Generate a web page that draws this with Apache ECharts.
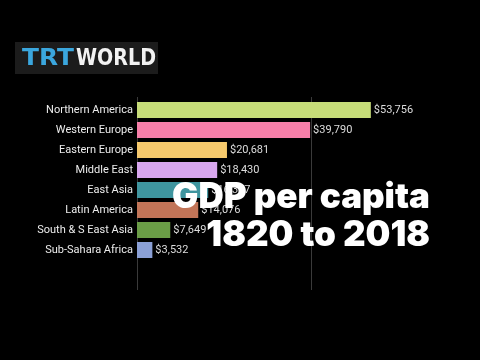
<!DOCTYPE html>
<html>
<head>
<meta charset="utf-8">
<script src="https://cdn.jsdelivr.net/npm/echarts@6/dist/echarts.min.js"></script>
<style>html,body{margin:0;padding:0;background:#000;}#c{width:480px;height:360px;}</style>
</head>
<body>
<div id="c"></div>
<script>
var regions = ['Northern America','Western Europe','Eastern Europe','Middle East','East Asia','Latin America','South & S East Asia','Sub-Sahara Africa'];
var gdp = [53756, 39790, 20681, 18430, 16377, 14076, 7649, 3532];
var colors = ['#c6dc78','#f77fa9','#f6c96c','#d8a6ee','#3f959f','#c27558','#6a9d46','#8ba0d6'];
var titleLines = ['GDP per capita', '1820 to 2018'];
var logoParts = ['TRT', 'WORLD'];

var titleStyle = {color: '#fff', fontSize: 35, fontWeight: 900, fontFamily: 'Inter', lineHeight: 35};
var chart = echarts.init(document.getElementById('c'), null, {renderer: 'canvas'});
chart.setOption({
  backgroundColor: '#000',
  animation: false,
  title: [
    {text: titleLines[0], right: 50, top: 180, padding: 0, textStyle: titleStyle},
    {text: titleLines[1], right: 50, top: 218, padding: 0, textStyle: titleStyle}
  ],
  graphic: [
    {type: 'rect', x: 15, y: 42, shape: {width: 143, height: 32}, style: {fill: '#1c1c1c'}},
    {type: 'text', x: 22, y: 48, scaleX: 1.08, style: {
      text: logoParts[0], fontSize: 23, fontWeight: 'bold', fontFamily: 'DejaVu Sans', fill: '#3ba7de'
    }},
    {type: 'text', x: 76, y: 48, scaleX: 0.83, style: {
      text: logoParts[1], fontSize: 23, fontWeight: 'bold', fontFamily: 'DejaVu Sans', fill: '#f2f2f2'
    }}
  ],
  grid: [
    {left: 137, top: 100, width: 261, height: 160},
    {left: 137, top: 97, width: 174, height: 193}
  ],
  xAxis: [
    {gridIndex: 0, type: 'value', min: 0, max: 60000, show: false, splitLine: {show: false}},
    {gridIndex: 1, type: 'value', min: 0, max: 40000, interval: 40000,
     axisLine: {show: false}, axisTick: {show: false}, axisLabel: {show: false},
     splitLine: {show: true, lineStyle: {color: '#3a3a3a', width: 1}}}
  ],
  yAxis: [
    {gridIndex: 0, type: 'category', data: regions, inverse: true,
     axisLine: {show: false}, axisTick: {show: false},
     axisLabel: {color: '#ececec', fontSize: 11, fontFamily: 'Roboto', margin: 4}},
    {gridIndex: 1, type: 'value', show: false, min: 0, max: 1}
  ],
  series: [{
    type: 'bar',
    xAxisIndex: 0, yAxisIndex: 0,
    data: gdp.map(function (v, i) { return {value: v, itemStyle: {color: colors[i]}}; }),
    barWidth: 16,
    label: {
      show: true, position: 'right', distance: 3,
      color: '#dcdcdc', fontSize: 11, fontFamily: 'Roboto',
      formatter: function (p) { return '$' + p.value.toLocaleString('en-US'); }
    }
  }]
});
</script>
</body>
</html>
